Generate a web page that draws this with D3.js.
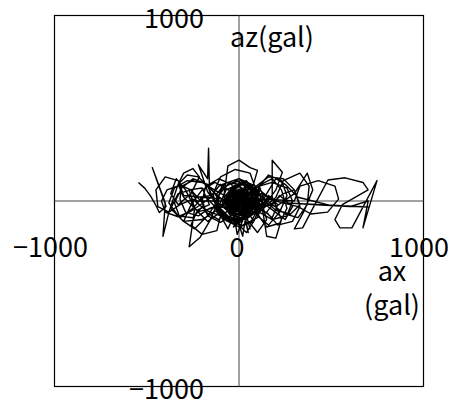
<!DOCTYPE html>
<html>
<head>
<meta charset="utf-8">
<script src="https://d3js.org/d3.v7.min.js"></script>
<style>
  body { margin: 0; background: white; }
  text { font-family: "Noto Sans CJK JP", "DejaVu Sans", sans-serif; fill: black; }
</style>
</head>
<body>
<svg id="chart" width="451" height="403"></svg>
<script>
// orbit of acceleration, ax (horizontal) vs az (vertical), in gal
var ax = [
  -545,-510,-480,-455,-432,-395,-470,-440,-400,-412,
  -380,-330,-300,-250,-215,-260,-330,-370,-340,-290,
  -240,-270,-210,-160,-120,-170,-220,-170,-165,-160,
  -110,-60,-20,-80,-60,0,60,100,70,20,
  -40,-100,-150,-100,-30,30,80,40,-10,-60,
  -20,40,90,130,150,200,230,180,180,235,
  200,140,80,20,-40,-90,-30,40,100,60,
  -10,-70,-20,50,110,160,120,50,-20,-60,
  0,60,30,-40,-80,-30,30,70,20,-30,
  10,50,20,-30,-60,-10,40,0,-50,-20,
  80,200,300,370,400,350,300,345,400,482,
  575,672,700,560,520,547,612,748,672,700,
  600,420,250,699,500,320,250,200,150,100,
  60,100,150,120,60,0,-40,10,60,20,
  -60,-130,-200,-260,-300,-240,-170,-110,-170,-250,
  -310,-350,-320,-250,-190,-130,-80,-20,30,0,
  -50,-10,40,10,-30,20,50,10,-40,-10,
  30,80,40,-10,-50,-20,30,0,-30,20,
  60,100,160,220,260,230,160,110,140,200,
  280,330,300,240,170,90,30,-20,10,0,
  -230,-260,-320,-390,-420,-400,-330,-260,
  -150,-170,-240,-310,-320,-290,-220,-160,
  -10,-40,-110,-180,-200,-170,-100,-30,
  40,0,-70,-120,-110,-50,30,80,60,-10,-90,-130,
  -80,0,70,100,50,-30,-80,-60,20,90,110,40,
  -40,-90,-40,40,100,120,70,-20,-70,-20,50,80,
  40,-30,-50,10,60,30,-20,-30,20,40,0,-20,
  90,110,180,260,290,260,180,110,
  200,240,330,380,370,320,250,
  100,60,-20,-100,-140,-120,-40,50,
  90,30,-40,-70,-30,30,60,20,-30,-10,30,
  -300,-330,-400,-450,-440,-380,-320,
  -250,-180,-100,
  -120,-200,-260,-230,-150,
  -60,0,60,110,80,0,-60,-40,20,50,10,-30,0,
  300,330,430,520,540,480,390,320,
  200,120,60,20,
  120,80,0,-80,-120,-90,0,90,130,100,20,-60,-110,-70,20,100,
  40,20,-20,10,50,30,-10,-30,0,60,20,
  -100,-200,-280,-350,-380,-330,-250,-190,-260,-330,-370,-300,-200,-120,
  -40,80,160,240,300,330,290,210,150,220,290,250,170,90,20,
  -30,40,100,70,-10,-90,-120,-60,10,80,60,0,-50,-20,30,10,
  -60,-150,-220,-280,-330,-300,-230,-160,-200,-270,-240,-170,-100,-150,-210,-180,-110,-50,
  30,120,180,230,260,220,150,100,160,210,180,120,60
];
var az = [
  100,68,28,-15,-62,-30,180,100,-10,-190,
  -60,90,150,175,130,40,-20,40,120,60,
  -40,-247,-195,-110,-20,50,195,120,285,60,
  -60,-150,-60,40,190,220,180,165,60,-40,
  -100,-40,30,90,40,-30,-110,-170,-120,-20,
  70,110,40,-60,-190,-200,-100,20,220,155,
  60,-20,-60,20,60,-30,-80,-50,30,90,
  40,0,-40,10,60,20,-40,-90,-50,30,
  80,40,-30,-70,-10,50,20,-40,-100,-140,
  -60,30,100,70,-20,-50,0,60,20,-30,
  10,-30,40,150,60,-60,-150,-145,-40,113,
  125,100,60,-20,-100,-145,-145,110,-145,0,
  -30,-20,-10,-32,-25,20,90,120,40,-50,
  -120,-170,-100,0,50,10,-30,-70,-20,40,
  60,100,60,-20,-110,-150,-80,10,90,120,
  70,-10,-90,-40,30,-30,-90,-130,-80,0,
  50,90,40,-20,10,50,-10,-50,-20,30,
  70,20,-40,-90,-50,20,0,-30,40,60,
  0,-80,-130,-60,30,110,140,80,0,-50,
  -70,-20,60,40,-20,-40,10,-10,20,0,
  0,60,85,60,0,-60,-85,-55,
  20,90,115,80,10,-60,-80,-40,
  10,90,120,80,0,-80,-115,-70,
  20,90,100,40,-40,-100,-90,-20,60,110,70,-10,
  -90,-120,-60,20,90,80,20,-60,-80,-30,50,100,
  60,-10,-90,-100,-40,30,80,50,-20,-70,-60,0,
  60,30,-30,-50,-10,40,20,-20,-30,10,30,0,
  0,80,100,70,0,-80,-100,-60,
  20,110,150,80,-20,-90,-70,
  40,150,170,130,40,-60,-110,-80,
  10,70,50,-10,-60,-50,10,60,20,-30,0,
  30,110,130,60,-30,-60,-20,
  10,-50,-80,
  -160,-180,-130,-60,-40,
  -30,40,70,10,-70,-90,-40,30,40,-20,-60,-20,20,
  0,80,110,80,10,-60,-70,-30,
  0,40,0,-40,
  -20,-110,-140,-100,-10,90,120,80,-10,-90,-130,-110,-30,60,100,50,
  -60,-190,-60,40,-170,-80,-180,-50,60,-150,0,
  40,100,110,70,-10,-80,-90,-20,60,40,-40,-110,-100,-50,
  30,70,130,120,60,-30,-110,-130,-60,30,-30,-100,-40,20,-10,
  80,110,40,-50,-110,-80,20,90,110,40,-40,-80,-30,40,30,0,
  -20,60,130,140,90,20,-50,-20,70,60,-40,-110,-60,30,20,-60,-100,-40,
  20,90,120,60,-40,-120,-140,-70,30,-20,-90,-40,0
];
var xDomain = [-1000, 1000];
var yDomain = [-1000, 1000];

var svg = d3.select("#chart");
var x0 = 54.5, x1 = 423.5, y0 = 15.5, y1 = 386.5;

var x = d3.scaleLinear().domain(xDomain).range([x0, x1]);
var y = d3.scaleLinear().domain(yDomain).range([y1, y0]);

// frame
svg.append("rect")
  .attr("x", x0).attr("y", y0)
  .attr("width", x1 - x0).attr("height", y1 - y0)
  .attr("fill", "none").attr("stroke", "black").attr("stroke-width", 1.2);

// cross lines through zero
svg.append("line")
  .attr("x1", x(0)).attr("x2", x(0)).attr("y1", y0).attr("y2", y1)
  .attr("stroke", "#444").attr("stroke-width", 1);
svg.append("line")
  .attr("x1", x0).attr("x2", x1).attr("y1", y(0)).attr("y2", y(0))
  .attr("stroke", "#444").attr("stroke-width", 1);

// orbit
var pts = ax.map(function(d, i) { return [d, az[i]]; });
var line = d3.line().x(function(d) { return x(d[0]); }).y(function(d) { return y(d[1]); });
svg.append("path")
  .datum(pts)
  .attr("d", line)
  .attr("fill", "none")
  .attr("stroke", "black")
  .attr("stroke-width", 1.4)
  .attr("stroke-linejoin", "round");

// labels
function label(tx, ty, s, anchor) {
  svg.append("text")
    .attr("x", tx).attr("y", ty)
    .attr("text-anchor", anchor)
    .style("font-size", "27px")
    .text(s);
}
label(204, 28, "1000", "end");
label(204, 399, "\u22121000", "end");
label(88, 257, "\u22121000", "end");
label(389, 257, "1000", "start");
label(237, 257, "0", "middle");
label(230, 47, "az(gal)", "start");
label(392, 281, "ax", "middle");
label(392, 315, "(gal)", "middle");
</script>
</body>
</html>
